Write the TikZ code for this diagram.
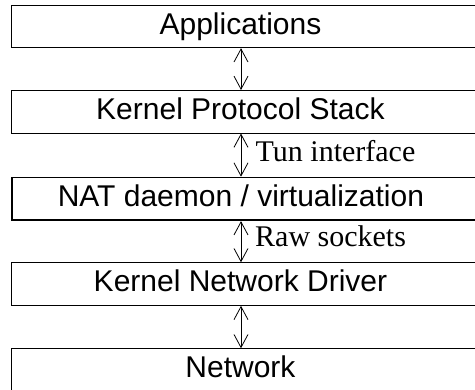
\documentclass[tikz,border=0pt]{standalone}
\usepackage{fontspec}
\setmainfont{Liberation Serif}
\setsansfont{Liberation Sans}
\usetikzlibrary{arrows.meta,calc}
\begin{document}
\begin{tikzpicture}[x=1pt,y=1pt,
  layer/.style={draw, line width=0.9pt, minimum width=469.3pt, minimum height=42.6pt,
    inner xsep=0pt, inner ysep=4pt, text height=25pt, text depth=9.6pt,
    font=\fontsize{30}{36}\selectfont\sffamily, anchor=north west},
  thicklayer/.style={layer, line width=1.8pt},
  link/.style={{Straight Barb[length=13pt,width=14pt]}-{Straight Barb[length=13pt,width=14pt]}, line width=0.8pt},
  lbl/.style={font=\fontsize{30}{36}\selectfont\rmfamily, inner sep=0pt, anchor=base west}
]
\useasboundingbox (0,0) rectangle (475,-390);
\clip (0,0) rectangle (475,-390);
\fill[white] (0,0) rectangle (475,-390);
\coordinate (ax) at (241,0);
\node[layer] (b1) at (10.7,-4.7) {\hspace{-10.7pt}Applications};
\node[layer] (b2) at (10.7,-90) {\hspace{-10.7pt}Kernel Protocol Stack};
\node[thicklayer] (b3) at (10.7,-176.7) {\hspace{-10.7pt}NAT daemon / virtualization};
\node[layer] (b4) at (10.7,-262.3) {\hspace{-10.7pt}Kernel Network Driver};
\node[layer] (b5) at (10.7,-348.3) {\hspace{-10.7pt}Network};
\draw[link] (b1.south -| ax) -- (b2.north -| ax);
\draw[link] (b2.south -| ax) -- (b3.north -| ax);
\draw[link] (b3.south -| ax) -- (b4.north -| ax);
\draw[link] (b4.south -| ax) -- (b5.north -| ax);
\node[lbl] (l1) at (255.5,-161.7) {Tun interface};
\node[lbl] (l2) at (255,-246.7) {Raw sockets};
\end{tikzpicture}
\end{document}
